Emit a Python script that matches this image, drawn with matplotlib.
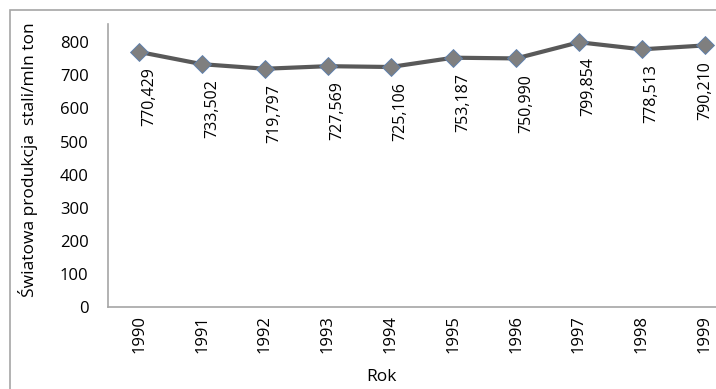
import matplotlib.pyplot as plt
from matplotlib.patches import Rectangle

# World steel production, million tonnes
years = ["1990", "1991", "1992", "1993", "1994", "1995", "1996", "1997", "1998", "1999"]
production = [770.429, 733.502, 719.797, 727.569, 725.106, 753.187, 750.990, 799.854, 778.513, 790.210]
labels = ["770,429", "733,502", "719,797", "727,569", "725,106", "753,187", "750,990", "799,854", "778,513", "790,210"]
y_ticks = [0, 100, 200, 300, 400, 500, 600, 700, 800]

plt.rcParams["font.family"] = ["Open Sans", "DejaVu Sans"]

W, H = 716, 389
fig = plt.figure(figsize=(W / 100, H / 100), dpi=100)

# chart frame, running off the right edge
frame = Rectangle((10 / W, -0.1), 1.2, (H - 10) / H + 0.1, transform=fig.transFigure,
                  fill=False, edgecolor="#a6a6a6", linewidth=1.2, clip_on=False)
fig.patches.append(frame)

ax = fig.add_axes([108 / W, 82 / H, 628 / W, 283 / H])
x = list(range(len(years)))
ax.plot(x, production, color="#595959", linewidth=3, marker="D", markersize=9,
        markerfacecolor="#7f7f7f", markeredgecolor="#5a7fb0", markeredgewidth=0.6, zorder=3)

for i, (xi, yi, lab) in enumerate(zip(x, production, labels)):
    # last label pulled back so it stays inside the figure
    dx = 7 if i < len(x) - 1 else 0.5
    ax.annotate(lab, (xi, yi), xytext=(dx, -11), textcoords="offset points",
                rotation=90, ha="center", va="top", fontsize=11.5, color="#000000")

ax.set_xlim(-0.5, len(years) - 0.5)
ax.set_ylim(0, 855)
ax.set_yticks(y_ticks)
ax.set_xticks(x)
ax.set_xticklabels(years, rotation=90)
ax.tick_params(axis="both", length=0, labelsize=12, colors="#000000")
ax.tick_params(axis="y", pad=14)
ax.tick_params(axis="x", pad=6)

for side in ["top", "right"]:
    ax.spines[side].set_visible(False)
for side in ["left", "bottom"]:
    ax.spines[side].set_color("#a6a6a6")
    ax.spines[side].set_linewidth(1.2)

fig.text(28 / W, 1 - 160 / H, "Światowa produkcja  stali/mln ton", rotation=90,
         ha="center", va="center", fontsize=12.5, color="#000000")
fig.text(381 / W, 1 - 377 / H, "Rok", ha="center", va="center", fontsize=12.5, color="#000000")

fig.savefig("out.png", dpi=100)
